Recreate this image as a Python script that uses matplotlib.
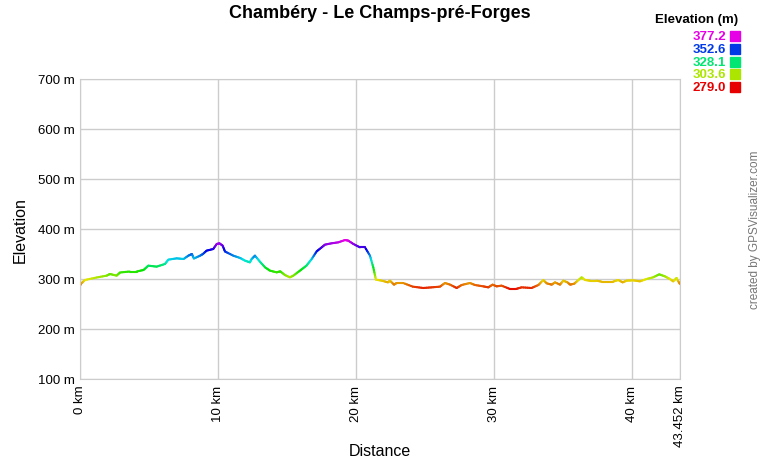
import colorsys
import matplotlib
matplotlib.use('Agg')
import matplotlib.pyplot as plt
import numpy as np
from matplotlib.collections import LineCollection

plt.rcParams['font.family'] = ['Liberation Sans', 'DejaVu Sans']

# distance (km) / elevation (m)
dist_km = [0.0, 0.05, 0.36, 1.2, 1.93, 2.17, 2.65, 2.9, 3.6, 4.1, 4.6, 4.95, 5.55, 6.15,
           6.4, 7.0, 7.5, 7.85, 8.1, 8.25, 8.7, 8.9, 9.17, 9.65, 9.9, 10.1, 10.33, 10.5,
           11.1, 11.6, 11.95, 12.3, 12.43, 12.67, 13.03, 13.4, 13.76, 14.24, 14.5, 14.84,
           15.2, 15.45, 15.93, 16.4, 16.78, 17.14, 17.5, 17.74, 18.2, 18.7, 19.2, 19.43,
           19.8, 20.27, 20.64, 21.0, 21.24, 21.43, 21.85, 22.3, 22.45, 22.74, 22.93, 23.4,
           24.1, 24.86, 25.47, 26.07, 26.43, 26.8, 27.28, 27.64, 28.24, 28.6, 29.2, 29.57,
           29.88, 30.17, 30.53, 31.14, 31.57, 31.98, 32.7, 33.2, 33.55, 33.8, 34.16, 34.4,
           34.76, 35.0, 35.3, 35.5, 35.8, 36.1, 36.33, 36.57, 36.93, 37.4, 37.77, 38.6,
           38.98, 39.3, 39.58, 40.07, 40.55, 41.03, 41.5, 41.95, 42.36, 42.72, 42.96, 43.2,
           43.33, 43.452]
elev_m = [287, 290, 298, 303, 306.7, 310, 306.7, 313, 315, 315, 318, 326.7, 324.7, 330,
          338.7, 341.3, 340, 346.7, 350, 341, 346.7, 350, 356.7, 360, 370, 371.3, 366.7, 355,
          346.7, 342, 336.7, 333.3, 340, 346.7, 334.7, 323.3, 316.7, 313.3, 315.3, 308,
          303.3, 306.7, 316.7, 326.7, 340, 355.3, 363.3, 368.7, 371.3, 373.3, 378, 376.7,
          370, 363.3, 363.3, 346.7, 323.3, 298.7, 296.7, 293.3, 296.7, 288.7, 292, 292,
          284.7, 282, 283.3, 284.7, 292, 288.7, 282, 288, 292, 288, 285.3, 283.3,
          288.7, 285.3, 286.7, 280, 280, 283.3, 282, 288, 298, 291.3, 288.7, 293.3,
          288.7, 296.7, 293.3, 288.7, 290.7, 298, 303.3, 298, 296.7, 296.7, 294.7, 294.7,
          298, 293.3, 296.7, 297.3, 295.3, 300, 303.3, 309.3, 305.3, 300, 295.3, 302,
          295.3, 290]

legend_vals = [377.2, 352.6, 328.1, 303.6, 279.0]
x_ticks = [0, 10, 20, 30, 40, 43.452]
x_labels = ['0 km', '10 km', '20 km', '30 km', '40 km', '43.452 km']
y_ticks = [100, 200, 300, 400, 500, 600, 700]


def elev_color(e):
    t = (e - legend_vals[-1]) / (legend_vals[0] - legend_vals[-1])
    t = min(max(t, 0), 1)
    return colorsys.hsv_to_rgb(t * 300 / 360, 1.0, 0.9)


W, H = 760, 460
fig = plt.figure(figsize=(W / 100, H / 100), dpi=100)
ax = fig.add_axes([80 / W, 80 / H, 600 / W, 300 / H])

x = np.array(dist_km)
y = np.array(elev_m)
# densify so colour changes smoothly along the line
xs, ys = [], []
for i in range(len(x) - 1):
    for f in np.linspace(0, 1, 6)[:-1]:
        xs.append(x[i] + (x[i + 1] - x[i]) * f)
        ys.append(y[i] + (y[i + 1] - y[i]) * f)
xs.append(x[-1]); ys.append(y[-1])
pts = np.column_stack([xs, ys]).reshape(-1, 1, 2)
segs = np.concatenate([pts[:-1], pts[1:]], axis=1)
cols = [elev_color((ys[i] + ys[i + 1]) / 2) for i in range(len(ys) - 1)]
lc = LineCollection(segs, colors=cols, linewidths=1.5, capstyle='round')
ax.add_collection(lc)

ax.set_xlim(0, 43.452)
ax.set_ylim(100, 700)
ax.set_xticks(x_ticks)
ax.set_xticklabels(x_labels, rotation=90, fontsize=9.5)
ax.set_yticks(y_ticks)
ax.set_yticklabels([f'{v} m' for v in y_ticks], fontsize=9.5)
ax.grid(True, color='#cccccc', linewidth=1)
ax.set_axisbelow(True)
ax.tick_params(length=0, pad=4)
for s in ax.spines.values():
    s.set_color('#cccccc')

fig.text(380 / W, 1 - 452 / H, 'Distance', ha='center', va='center', fontsize=11.5)
fig.text(20 / W, 1 - 230 / H, 'Elevation', ha='center', va='center', rotation=90,
         fontsize=11.5)

fig.text(380 / W, 1 - 14 / H, 'Chambéry - Le Champs-pré-Forges', ha='center', va='center',
         fontsize=13, fontweight='bold')

fig.text(738 / W, 1 - 20 / H, 'Elevation (m)', ha='right', va='center', fontsize=9.5,
         fontweight='bold')
for i, v in enumerate(legend_vals):
    yy = 1 - (37 + i * 12.8) / H
    c = elev_color(v)
    fig.text(726 / W, yy, f'{v:.1f}', ha='right', va='center', fontsize=9.5,
             fontweight='bold', color=c)
    fig.patches.append(plt.Rectangle((730 / W, yy - 5 / H), 10 / W, 10 / H,
                                     transform=fig.transFigure, color=c))

fig.text(755 / W, 1 - 230 / H, 'created by GPSVisualizer.com', rotation=90, ha='center',
         va='center', fontsize=8.5, color='#777777')

fig.savefig('out.png', dpi=100)
